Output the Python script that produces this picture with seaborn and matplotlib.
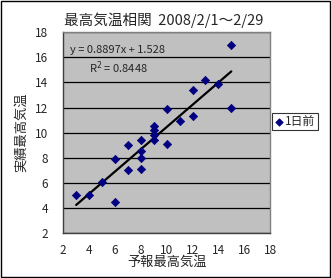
import matplotlib
matplotlib.use("Agg")
import matplotlib.pyplot as plt
import seaborn as sns
import pandas as pd

# forecast max temp vs observed max temp (1 day ahead), Feb 2008
forecast = [3, 4, 5, 6, 6, 7, 7, 8, 8, 8, 8, 9, 9, 9, 9,
            10, 10, 11, 12, 12, 13, 14, 15, 15]
observed = [5.0, 5.0, 6.1, 4.5, 7.9, 7.0, 9.0, 7.1, 8.0, 8.5, 9.4, 9.4, 9.8, 10.2, 10.5,
            9.1, 11.9, 10.9, 11.3, 13.4, 14.2, 13.9, 12.0, 17.0]
slope = 0.8897
intercept = 1.528
r2 = 0.8448
x_ticks = [2, 4, 6, 8, 10, 12, 14, 16, 18]
y_ticks = [2, 4, 6, 8, 10, 12, 14, 16, 18]

sns.set_style("white")
plt.rcParams['font.family'] = ['Noto Sans CJK JP', 'DejaVu Sans']

df = pd.DataFrame({'forecast': forecast, 'observed': observed})

fig = plt.figure(figsize=(3.31, 2.78), dpi=100)
fig.patch.set_facecolor('white')
ax = fig.add_axes([0.191, 0.162, 0.625, 0.722])
ax.set_facecolor('#C0C0C0')

sns.scatterplot(data=df, x='forecast', y='observed', marker='D', s=18,
                color='#000080', edgecolor='#000080', linewidth=0.5,
                label='1日前', ax=ax, zorder=3)
sns.regplot(data=df, x='forecast', y='observed', scatter=False, ci=None,
            truncate=True, line_kws={'color': 'black', 'lw': 1.6}, ax=ax)

ax.set_xlim(2, 18)
ax.set_ylim(2, 18)
ax.set_xticks(x_ticks)
ax.set_yticks(y_ticks)
ax.yaxis.grid(True, color='black', lw=0.9)
ax.set_axisbelow(True)
for s in ax.spines.values():
    s.set_color('#808080')
    s.set_linewidth(1)
ax.spines['bottom'].set_color('#404040')
ax.spines['left'].set_color('#404040')
ax.tick_params(axis='x', direction='in', length=3, labelsize=8.5, pad=8, color='#404040')
ax.tick_params(axis='y', direction='out', length=3, labelsize=8.5, pad=8, color='#404040')

ax.set_xlabel('予報最高気温', fontsize=9.5, labelpad=-1)
ax.set_ylabel('実績最高気温', fontsize=9.5, labelpad=5)

ax.text(2.5, 16.6, f'y = {slope}x + {intercept}', fontsize=8, va='center')
ax.text(4.0, 15.2, f'R$^2$ = {r2}', fontsize=8, va='center')

fig.text(0.495, 0.928, '最高気温相関  2008/2/1～2/29', fontsize=10.5, ha='center', va='center')

leg = ax.legend(loc='center left', bbox_to_anchor=(1.01, 0.555), fontsize=8.5,
                frameon=True, fancybox=False, edgecolor='black', handletextpad=0.1,
                handlelength=0.8, borderpad=0.2, borderaxespad=0, markerscale=0.9)
leg.get_frame().set_linewidth(0.8)

# outer border of the chart area
fig.add_artist(plt.Rectangle((0.002, 0.002), 0.995, 0.995, transform=fig.transFigure,
                             fill=False, edgecolor='black', lw=1))

fig.savefig('out.png', dpi=100)
